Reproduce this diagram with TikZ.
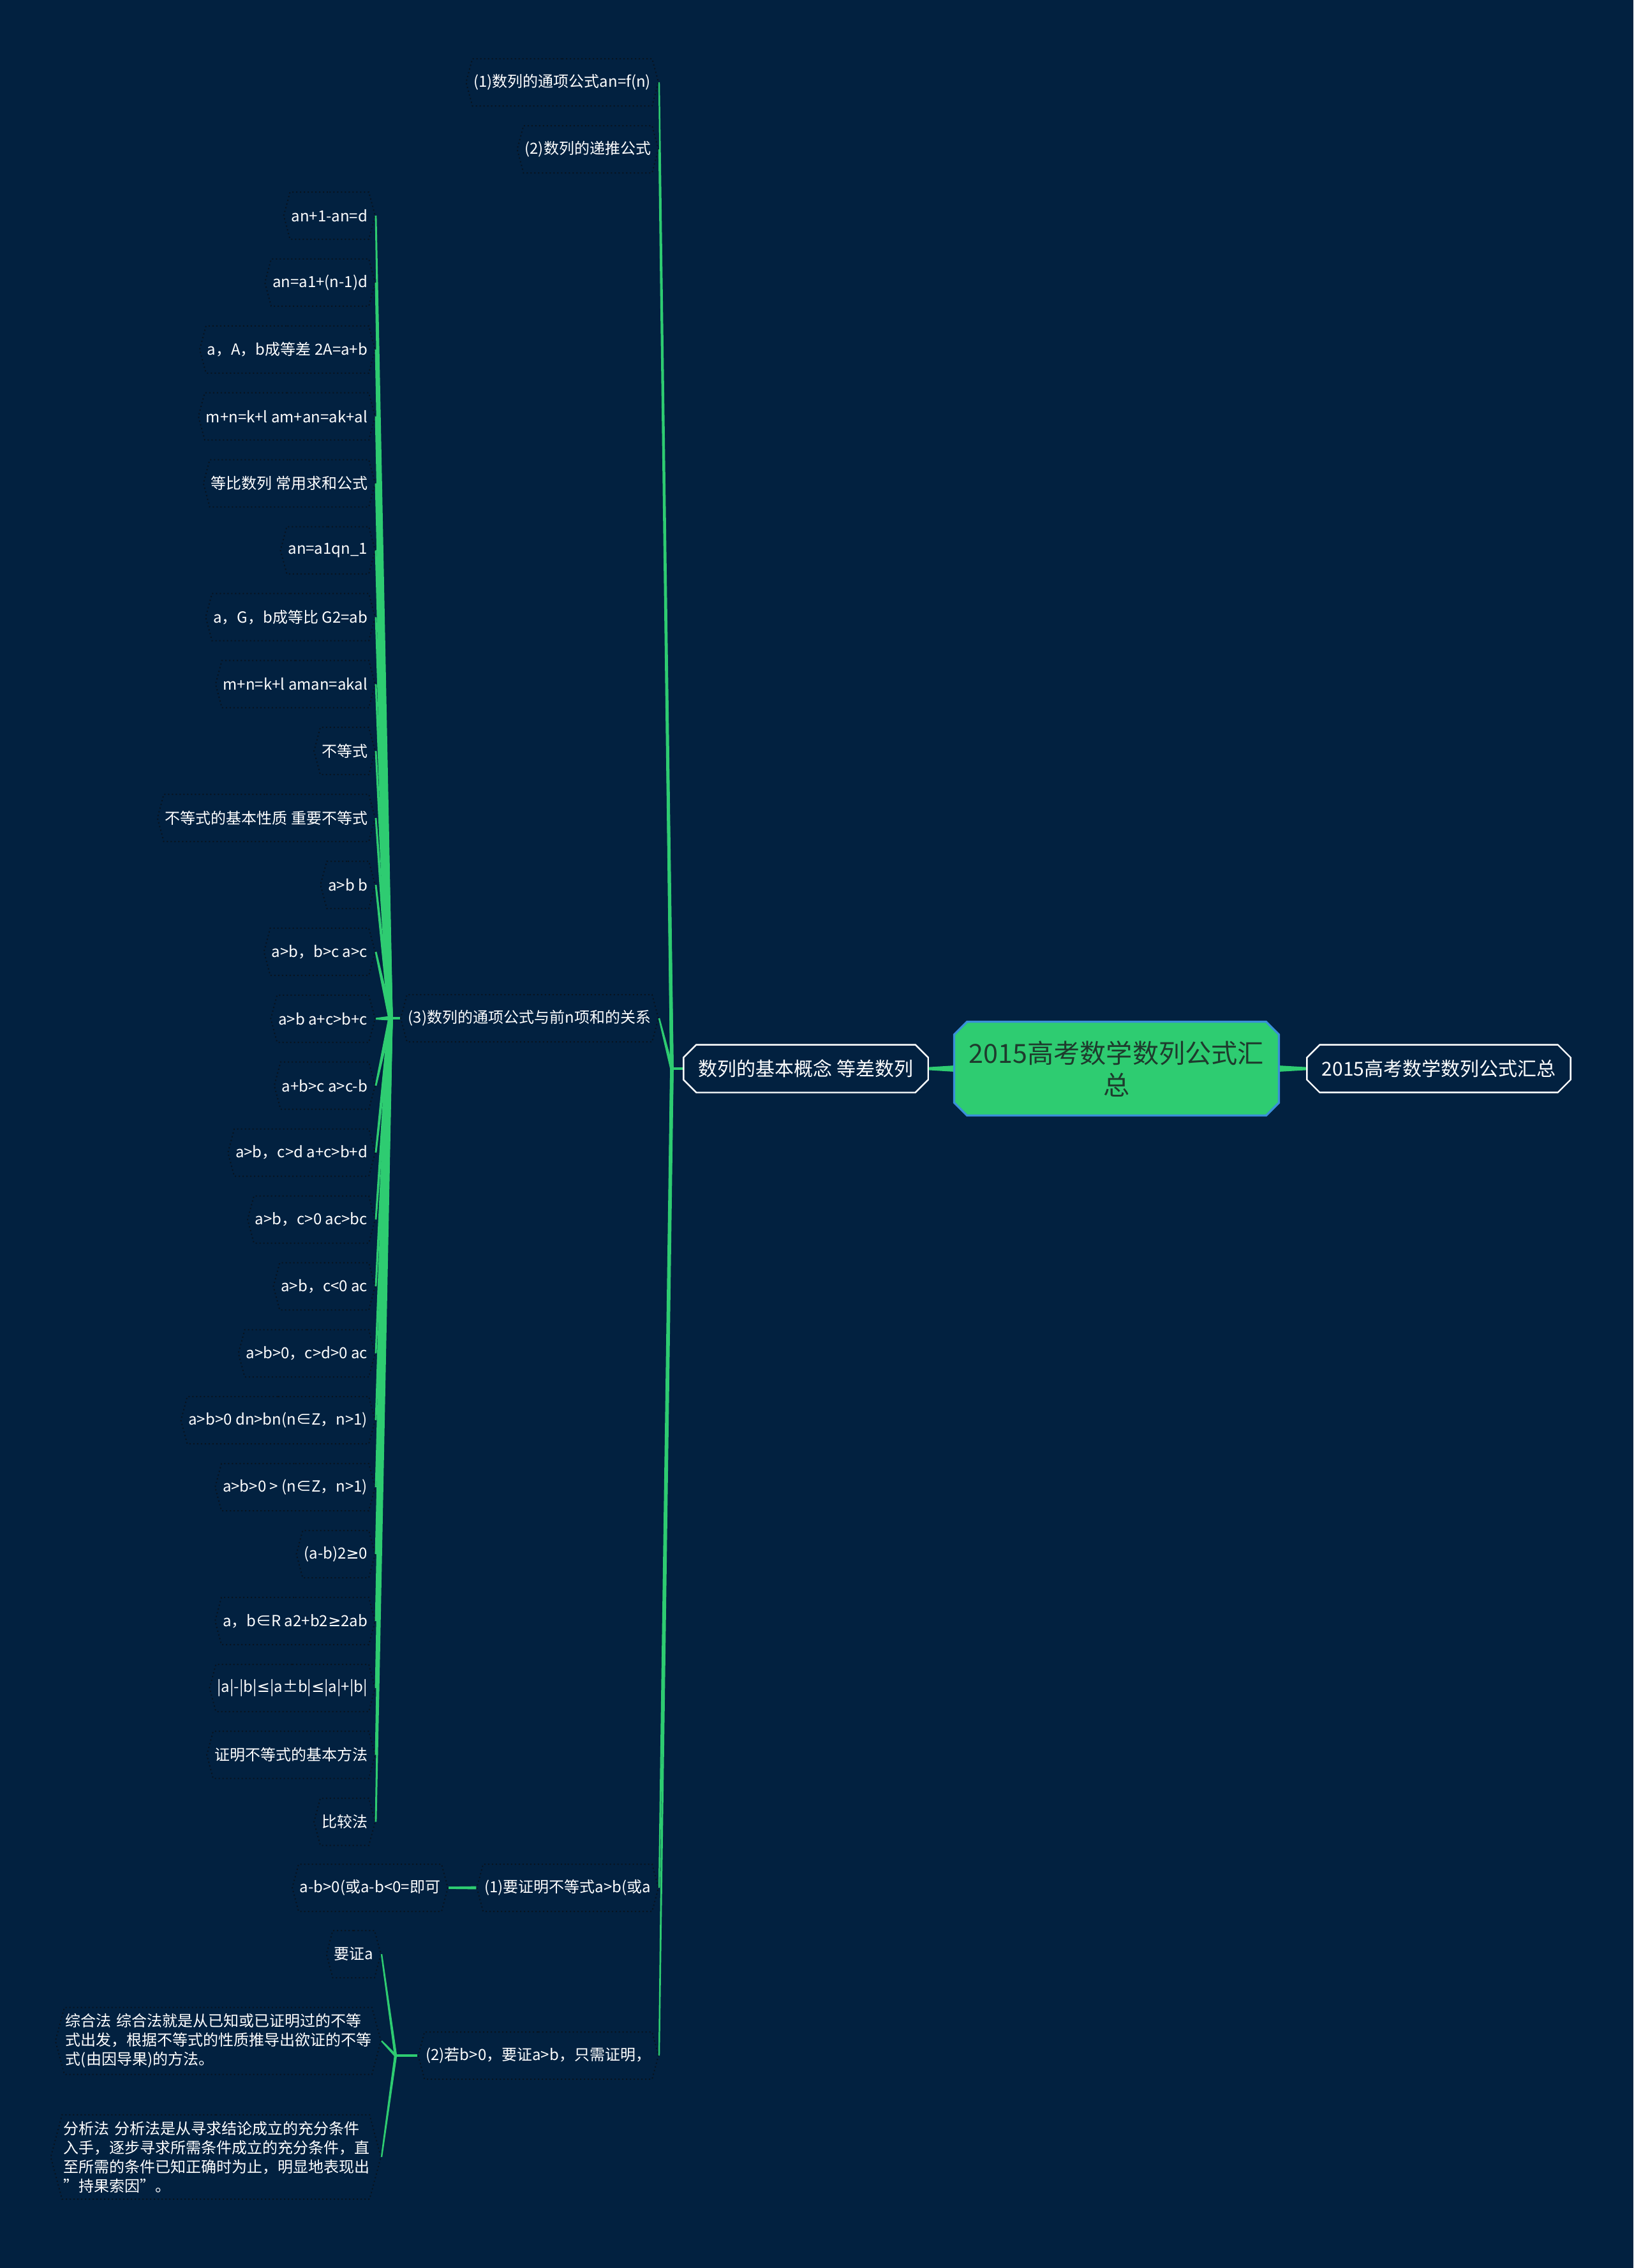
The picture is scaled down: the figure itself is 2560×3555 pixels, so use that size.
\documentclass[tikz,border=0pt]{standalone}
\usepackage{fontspec}
\setmainfont{Noto Sans CJK SC}
\newfontfamily\symfont{DejaVu Sans}
\usetikzlibrary{calc,shapes.misc,shapes.symbols}

\definecolor{bgcol}{HTML}{022140}
\definecolor{linkcol}{HTML}{2ECC71}
\definecolor{rootline}{HTML}{3A8FD8}
\definecolor{roottext}{HTML}{1E3B2D}
\definecolor{hexcol}{HTML}{08131F}

\tikzset{
  leafnode/.style={shape=signal, signal to=east and west, signal pointer angle=150,
    draw=hexcol, densely dotted, line width=0.5pt, text=white,
    font=\fontsize{6pt}{7.5pt}\selectfont, inner xsep=0.5pt, inner ysep=2.5pt,
    minimum height=18.5pt},
  mainnode/.style={chamfered rectangle, chamfered rectangle xsep=2.5pt,
    chamfered rectangle ysep=2.5pt, draw=white, line width=0.6pt, fill=bgcol,
    text=white, font=\fontsize{7.5pt}{9pt}\selectfont, minimum height=17.75pt},
  rootnode/.style={chamfered rectangle, chamfered rectangle xsep=2.5pt,
    chamfered rectangle ysep=2.5pt, draw=rootline, line width=0.8pt, fill=linkcol,
    text=roottext, font=\fontsize{10.3pt}{12.5pt}\selectfont, align=center,
    minimum width=114pt, minimum height=36.75pt}
}

% tapered link: from, to, half width at start, half width at end
\newcommand{\taper}[4]{\fill[linkcol] ($(#1)!#3!90:(#2)$) -- ($(#2)!#4!-90:(#1)$)
  -- ($(#2)!#4!90:(#1)$) -- ($(#1)!#3!-90:(#2)$) -- cycle;}
\newcommand{\geqs}{{\symfont ≥}}
\newcommand{\leqs}{{\symfont ≤}}

\begin{document}
\begin{tikzpicture}[x=0.25pt, y=-0.25pt]
\fill[bgcol] (0,0) rectangle (2560,3555);
\useasboundingbox (0,0) rectangle (2560,3555);

\node[rootnode] (root) at (1750,1675) {2015高考数学数列公式汇\\总};
\node[mainnode, minimum width=99pt] (title) at (2255,1675) {2015高考数学数列公式汇总};
\node[mainnode, minimum width=90pt] (basic) at (1263,1675) {数列的基本概念 等差数列};

\node[leafnode, anchor=east] (p1) at (1033,129) {(1)数列的通项公式an=f(n)};
\node[leafnode, anchor=east] (p2) at (1033,234) {(2)数列的递推公式};
\node[leafnode, anchor=east] (p3) at (1033,1596) {(3)数列的通项公式与前n项和的关系};
\node[leafnode, anchor=east] (q1) at (1033,2959) {(1)要证明不等式a>b(或a};
\node[leafnode, anchor=east] (q2) at (1033,3222) {(2)若b>0，要证a>b，只需证明，};

\coordinate (fb) at (1053,1675);
\coordinate (f3) at (612,1596);
\coordinate (f5) at (620,3222);

\foreach \txt [count=\i] in {{an+1-an=d},{an=a1+(n-1)d},{a，A，b成等差 2A=a+b},
    {m+n=k+l am+an=ak+al},{等比数列 常用求和公式},{an=a1qn\_1},{a，G，b成等比 G2=ab},
    {m+n=k+l aman=akal},{不等式},{不等式的基本性质 重要不等式},{a>b b},{a>b，b>c a>c},
    {a>b a+c>b+c},{a+b>c a>c-b},{a>b，c>d a+c>b+d},{a>b，c>0 ac>bc},{a>b，c<0 ac},
    {a>b>0，c>d>0 ac},{a>b>0 dn>bn(n∈Z，n>1)},{a>b>0 > (n∈Z，n>1)},{(a-b)2\geqs0},
    {a，b∈R a2+b2\geqs2ab},{|a|-|b|\leqs|a±b|\leqs|a|+|b|},{证明不等式的基本方法},{比较法}}
  \node[leafnode, anchor=east] (c\i) at (589,{338+104.9*(\i-1)}) {\txt};

\node[leafnode, anchor=east] (a1) at (703,2959) {a-b>0(或a-b<0=即可};
\node[leafnode, anchor=east] (r1) at (598,3063) {要证a};
\node[leafnode, anchor=east, align=left, text width=119.5pt] (r2) at (598,3199)
  {综合法 综合法就是从已知或已证明过的不等\\式出发，根据不等式的性质推导出欲证的不等\\式(由因导果)的方法。};
\node[leafnode, anchor=east, align=left, text width=119.5pt] (r3) at (598,3381)
  {分析法 分析法是从寻求结论成立的充分条件\\入手，逐步寻求所需条件成立的充分条件，直\\至所需的条件已知正确时为止，明显地表现出\\"持果索因"。};

\taper{root.west}{basic.east}{1.2pt}{0.6pt}
\taper{root.east}{title.west}{1.2pt}{0.6pt}
\taper{basic.west}{fb}{0.5pt}{0.5pt}
\foreach \n in {p1,p2,p3,q1,q2}
  \taper{fb}{\n.east}{0.7pt}{0.3pt};
\taper{p3.west}{f3}{0.5pt}{0.5pt}
\foreach \i in {1,...,25}
  \taper{f3}{c\i.east}{0.9pt}{0.35pt};
\taper{q1.west}{a1.east}{0.6pt}{0.45pt}
\taper{q2.west}{f5}{0.5pt}{0.5pt}
\foreach \n in {r1,r2,r3}
  \taper{f5}{\n.east}{0.55pt}{0.3pt};
\end{tikzpicture}
\end{document}
